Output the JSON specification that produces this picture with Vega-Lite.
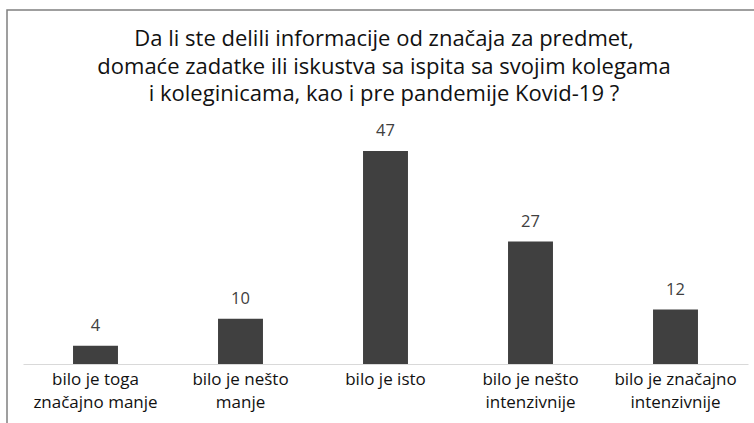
{
  "$schema": "https://vega.github.io/schema/vega-lite/v6.json",
  "width": 780,
  "height": 420,
  "autosize": "none",
  "padding": {"left": 7, "top": 10, "right": 0, "bottom": 0},
  "background": "white",
  "config": {
    "view": {"stroke": "#808080", "strokeWidth": 1.5},
    "font": "Open Sans"
  },
  "title": {
    "text": [
      "Da li ste delili informacije od značaja za predmet,",
      "domaće zadatke ili iskustva sa ispita sa svojim kolegama",
      "i koleginicama, kao i pre pandemije Kovid-19 ?"
    ],
    "fontSize": 22,
    "fontWeight": "normal",
    "color": "#111111",
    "lineHeight": 27.5,
    "anchor": "middle",
    "frame": "group",
    "baseline": "top",
    "offset": -96,
    "dx": -13
  },
  "data": {
    "values": [
      {"label": "bilo je toga|značajno manje", "value": 4},
      {"label": "bilo je nešto|manje", "value": 10},
      {"label": "bilo je isto", "value": 47},
      {"label": "bilo je nešto|intenzivnije", "value": 27},
      {"label": "bilo je značajno|intenzivnije", "value": 12}
    ]
  },
  "encoding": {
    "x": {
      "field": "label",
      "type": "nominal",
      "sort": null,
      "scale": {"range": [16, 741], "paddingInner": 0.69, "paddingOuter": 0.345},
      "axis": {
        "title": null,
        "labelAngle": 0,
        "labelExpr": "split(datum.value, '|')",
        "labelFontSize": 17,
        "labelColor": "#111111",
        "labelLineHeight": 23,
        "labelPadding": 7,
        "ticks": false,
        "domainColor": "#d9d9d9",
        "domainWidth": 1,
        "offset": -66
      }
    },
    "y": {
      "field": "value",
      "type": "quantitative",
      "scale": {"domain": [0, 78.1], "range": [354, 0]},
      "axis": null
    }
  },
  "layer": [
    {"mark": {"type": "bar", "color": "#404040"}},
    {
      "mark": {"type": "text", "baseline": "bottom", "dy": -12, "fontSize": 16.5, "color": "#404040"},
      "encoding": {"text": {"field": "value", "type": "quantitative"}}
    }
  ]
}
